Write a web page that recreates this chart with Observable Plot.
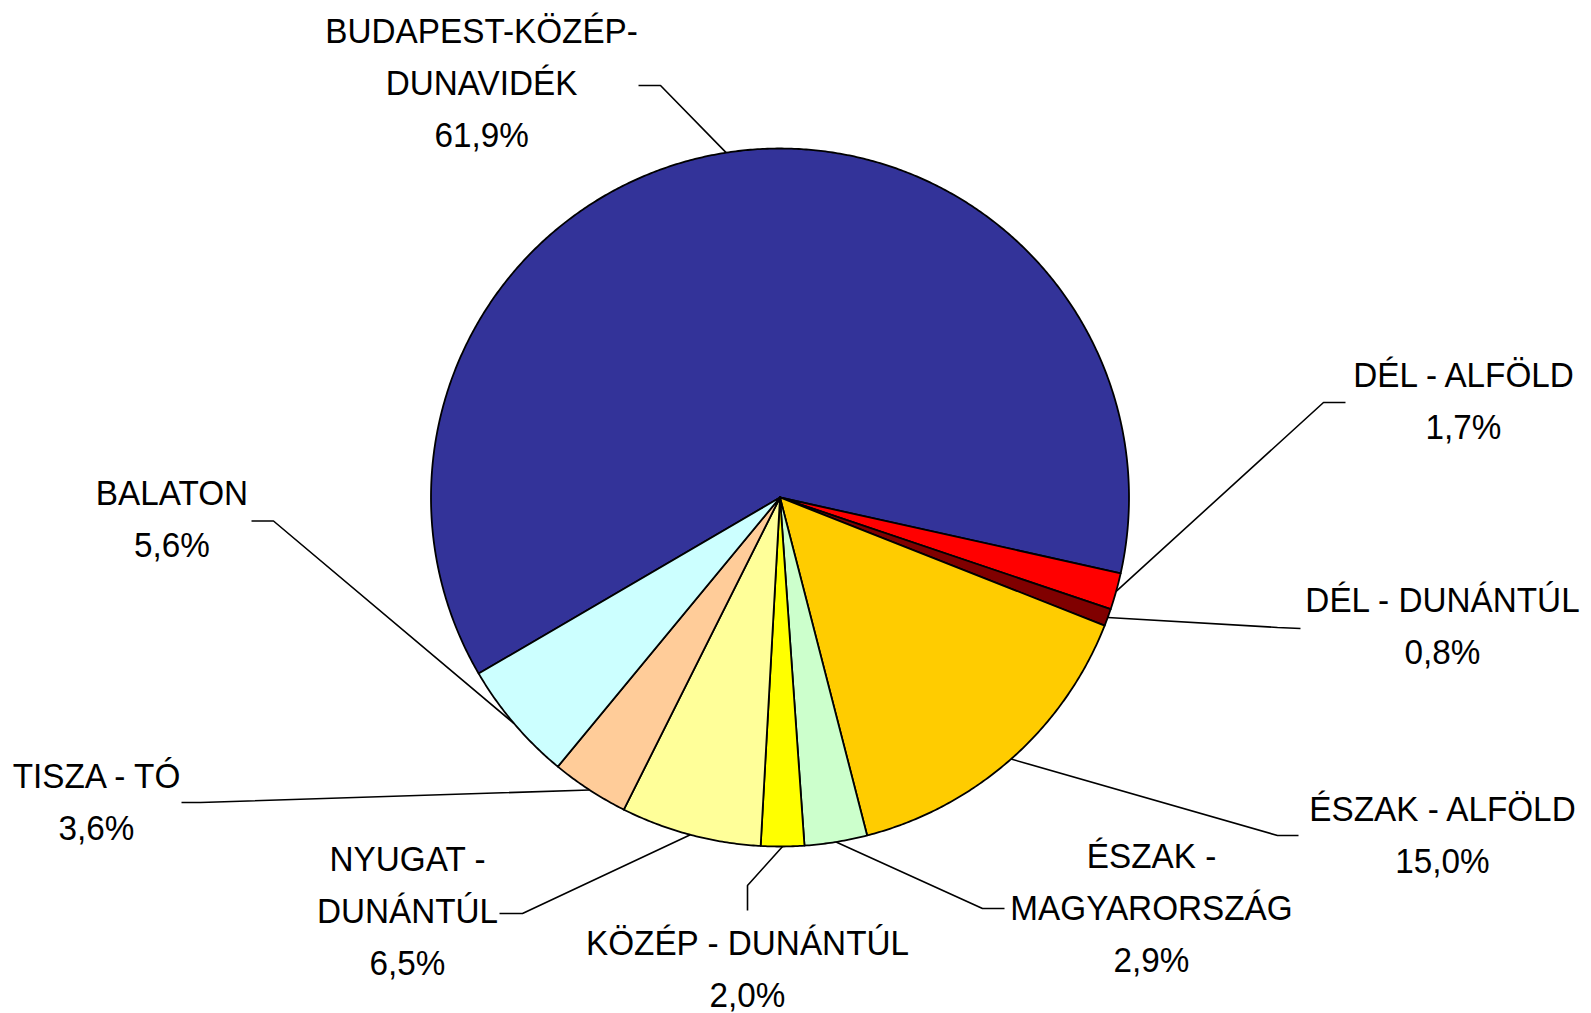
<!DOCTYPE html>
<html>
<head>
<meta charset="utf-8">
<script src="https://cdn.jsdelivr.net/npm/d3@7"></script>
<script src="https://cdn.jsdelivr.net/npm/@observablehq/plot@0.6"></script>
<style>
  html, body { margin: 0; padding: 0; background: #ffffff; }
  #chart svg { display: block; background: #ffffff; }
</style>
</head>
<body>
<div id="chart"></div>
<script>
// ---- data ----
const regions = [
  "BUDAPEST-KÖZÉP-\nDUNAVIDÉK",
  "DÉL - ALFÖLD",
  "DÉL - DUNÁNTÚL",
  "ÉSZAK - ALFÖLD",
  "ÉSZAK -\nMAGYARORSZÁG",
  "KÖZÉP - DUNÁNTÚL",
  "NYUGAT -\nDUNÁNTÚL",
  "TISZA - TÓ",
  "BALATON"
];
const shares = [61.9, 1.7, 0.8, 15.0, 2.9, 2.0, 6.5, 3.6, 5.6];
const colors = ["#333399", "#FF0000", "#800000", "#FFCC00", "#CCFFCC", "#FFFF00", "#FFFF99", "#FFCC99", "#CCFFFF"];

// ---- layout (in pie-radius units, centre = 0,0, y up) ----
const startAngle = 239.7; // degrees clockwise from 12 o'clock
const labelPos = [[-0.855, 1.186], [1.9585, 0.2751], [1.8983, -0.3696], [1.8983, -0.9685], [1.0645, -1.1777], [-0.0931, -1.3524], [-1.0673, -1.1862], [-1.9585, -0.8739], [-1.7421, -0.0616]];
const elbowPos = [[-0.3424, 1.1805], [1.5573, 0.2722], [1.4255, -0.3725], [1.4255, -0.9685], [0.5802, -1.1777], [-0.0931, -1.1117], [-0.7378, -1.1920], [-1.6605, -0.8739], [-1.4513, -0.0673]];
const endPos = [[-0.4054, 1.1805], [1.6203, 0.2722], [1.4914, -0.3754], [1.4857, -0.9685], [0.6433, -1.1777], [-0.0931, -1.1834], [-0.8037, -1.1920], [-1.7149, -0.8739], [-1.5143, -0.0673]];

const W = 1591, H = 1013, R = 349, cx = 779.5, cy = 497;

// ---- build slice polygons ----
const total = d3.sum(shares);
let acc = startAngle;
const slices = shares.map((v, i) => {
  const a0 = acc, a1 = acc + v / total * 360;
  acc = a1;
  return {i, a0, a1, mid: (a0 + a1) / 2};
});
const rad = a => a * Math.PI / 180;
const piePts = [];
for (const s of slices) {
  const base = {name: regions[s.i], color: colors[s.i]};
  const n = Math.max(2, Math.ceil((s.a1 - s.a0) / 0.4));
  piePts.push({...base, x: 0, y: 0});
  for (let k = 0; k <= n; k++) {
    const a = rad(s.a0 + (s.a1 - s.a0) * k / n);
    piePts.push({...base, x: Math.sin(a), y: Math.cos(a)});
  }
  piePts.push({...base, x: 0, y: 0});
}

// ---- leader lines ----
const leaderPts = [];
slices.forEach(s => {
  const a = rad(s.mid);
  const name = regions[s.i];
  leaderPts.push({name, x: Math.sin(a), y: Math.cos(a)});
  leaderPts.push({name, x: elbowPos[s.i][0], y: elbowPos[s.i][1]});
  leaderPts.push({name, x: endPos[s.i][0], y: endPos[s.i][1]});
});

// ---- labels ----
const fmt = v => v.toFixed(1).replace(".", ",") + "%";
const labels = regions.map((r, i) => ({text: r + "\n" + fmt(shares[i]), x: labelPos[i][0], y: labelPos[i][1]}));

const chart = Plot.plot({
  width: W,
  height: H,
  margin: 0,
  style: {background: "#ffffff"},
  x: {domain: [-cx / R, (W - cx) / R], axis: null},
  y: {domain: [-(H - cy) / R, cy / R], axis: null},
  color: {type: "identity"},
  marks: [
    Plot.line(leaderPts, {x: "x", y: "y", z: "name", stroke: "#000000", strokeWidth: 1.6, strokeLinejoin: "miter", strokeLinecap: "butt"}),
    Plot.line(piePts, {x: "x", y: "y", z: "name", fill: "color", stroke: "#000000", strokeWidth: 1.8, strokeLinejoin: "round"}),
    Plot.text(labels, {
      x: "x", y: "y", text: "text", dy: -5,
      fontSize: 36, lineHeight: 1.45,
      fontFamily: "'Liberation Sans', Arial, sans-serif",
      fill: "#000000", textAnchor: "middle", lineAnchor: "middle"
    })
  ]
});

// narrow the glyphs horizontally to match the condensed look of the original
chart.querySelectorAll('g[aria-label="text"] text').forEach(t => {
  const tr = t.getAttribute("transform");
  if (tr) {
    t.setAttribute("transform", tr + " scale(0.925,1)");
  } else {
    const x = t.getAttribute("x") || 0, y = t.getAttribute("y") || 0;
    t.removeAttribute("x"); t.removeAttribute("y");
    t.setAttribute("transform", `translate(${x},${y}) scale(0.925,1)`);
  }
});

document.getElementById("chart").appendChild(chart);
</script>
</body>
</html>
